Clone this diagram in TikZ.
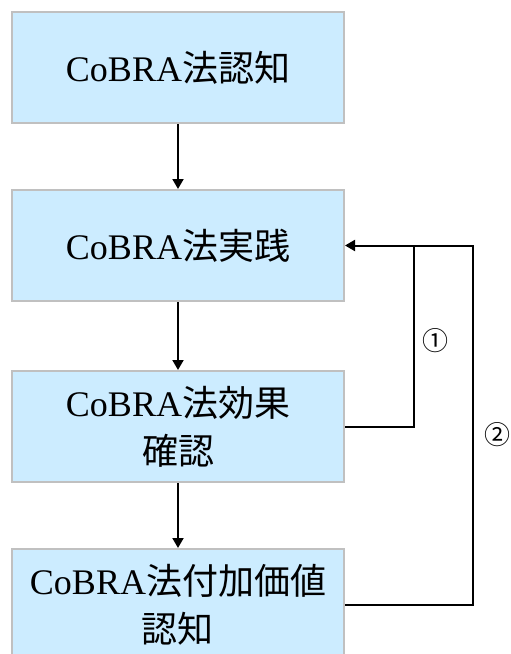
\documentclass[tikz,border=0pt]{standalone}
\usepackage{fontspec}
\setmainfont{Liberation Serif}
\newfontfamily\cjk{Noto Sans CJK JP}
\usetikzlibrary{arrows.meta}
\tikzset{
  flowbox/.style={draw={rgb,255:red,192;green,192;blue,192}, line width=2pt,
    fill={rgb,255:red,204;green,236;blue,255}, minimum width=332pt, minimum height=111pt,
    inner sep=0pt, align=center, font=\fontsize{36}{48}\selectfont},
  conn/.style={draw=black, line width=2pt},
  arr/.style={conn, -{Triangle[width=11pt,length=10pt]}},
  numlabel/.style={font=\cjk\fontsize{26}{26}\selectfont, inner sep=0pt}
}
\begin{document}
\begin{tikzpicture}[x=1pt,y=-1pt]
\useasboundingbox (0,0) rectangle (511,654);
\clip (0,0) rectangle (511,654);
\node[flowbox] (b1) at (178,67.5) {CoBRA{\cjk 法認知}};
\node[flowbox] (b2) at (178,245.5) {CoBRA{\cjk 法実践}};
\node[flowbox] (b3) at (178,426.5) {CoBRA{\cjk 法効果}\\{\cjk 確認}};
\node[flowbox] (b4) at (178,604.5) {CoBRA{\cjk 法付加価値}\\{\cjk 認知}};
\draw[arr] (b1) -- (b2);
\draw[arr] (b2) -- (b3);
\draw[arr] (b3) -- (b4);
\coordinate (j1) at (414,245.5);
\coordinate (j2) at (473,245.5);
\draw[conn] (b3.east) -| (j1);
\draw[conn] (b4.east) -| (j2) -- (j1);
\draw[arr] (j1) -- (b2.east);
\node[numlabel] (n1) at (435,341) {①};
\node[numlabel] (n2) at (497,435) {②};
\end{tikzpicture}
\end{document}
